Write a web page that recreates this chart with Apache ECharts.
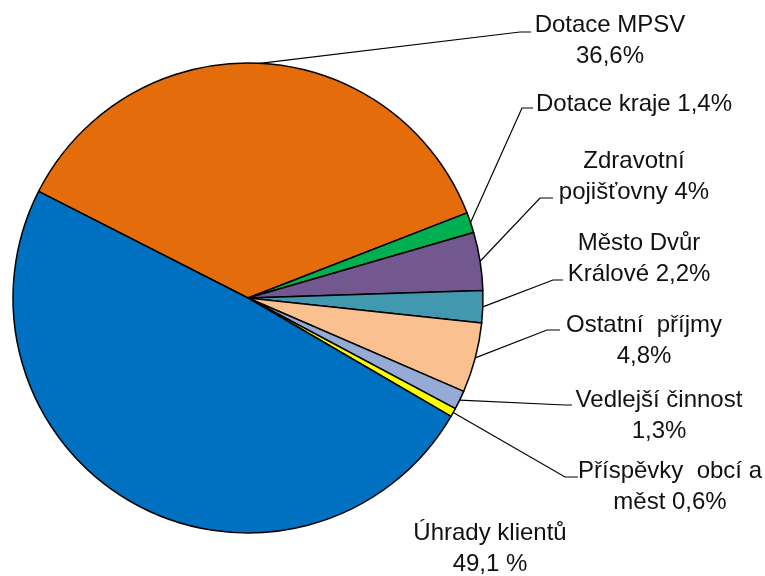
<!DOCTYPE html>
<html>
<head>
<meta charset="utf-8">
<script src="https://cdn.jsdelivr.net/npm/echarts@6/dist/echarts.min.js"></script>
<style>
  html, body { margin: 0; padding: 0; background: #fff; }
  #chart { width: 765px; height: 576px; }
</style>
</head>
<body>
<div id="chart"></div>
<script>
// data
const categories = ['Dotace MPSV', 'Dotace kraje', 'Zdravotní pojišťovny', 'Město Dvůr Králové',
  'Ostatní  příjmy', 'Vedlejší činnost', 'Příspěvky  obcí a měst', 'Úhrady klientů']
const values = [36.6, 1.4, 4.0, 2.2, 4.8, 1.3, 0.6, 49.1]
const labelTexts = ['Dotace MPSV\n36,6%', 'Dotace kraje 1,4%', 'Zdravotní\npojišťovny 4%', 'Město Dvůr\nKrálové 2,2%',
  'Ostatní  příjmy\n4,8%', 'Vedlejší činnost\n1,3%', 'Příspěvky  obcí a\nměst 0,6%', 'Úhrady klientů\n49,1 %']
const colors = ['#E46C0A', '#00B050', '#72588F', '#4198AF', '#FAC090', '#95AAD5', '#FFFF00', '#0070C0']

// label placement (center of text block) and leader line elbow / end
const labelPos = [[610, 41], [634, 104], [634, 177], [639, 259], [644, 341], [659, 416], [670, 487], [490, 549]]
const lineBends = [
  [[520, 32], [531, 32]],
  [[522, 108], [533, 108]],
  [[540, 198], [553, 198]],
  [[553, 280], [563, 280]],
  [[547, 330], [560, 330]],
  [[565, 405], [572, 405]],
  [[565, 477], [578, 477]],
  null,
]

const chart = echarts.init(document.getElementById('chart'))

chart.setOption({
  animation: false,
  series: [
    {
      type: 'pie',
      center: [248, 298],
      radius: 235,
      startAngle: 153,
      clockwise: true,
      avoidLabelOverlap: false,
      data: categories.map((c, i) => ({
        name: c,
        value: values[i],
        itemStyle: { color: colors[i] },
        labelLine: { show: lineBends[i] !== null },
      })),
      itemStyle: { borderColor: '#000', borderWidth: 1.5 },
      label: {
        show: true,
        position: 'outside',
        formatter: (p) => labelTexts[p.dataIndex],
        fontFamily: 'Liberation Sans',
        fontSize: 24,
        lineHeight: 31,
        color: '#111',
        align: 'center',
      },
      labelLine: {
        show: true,
        lineStyle: { color: '#000', width: 1.2 },
      },
      labelLayout: (params) => {
        const i = params.dataIndex
        const res = {
          x: labelPos[i][0],
          y: labelPos[i][1],
          align: 'center',
          verticalAlign: 'middle',
        }
        if (lineBends[i] && params.labelLinePoints) {
          res.labelLinePoints = [params.labelLinePoints[0], lineBends[i][0], lineBends[i][1]]
        }
        return res
      },
    },
  ],
})
</script>
</body>
</html>
